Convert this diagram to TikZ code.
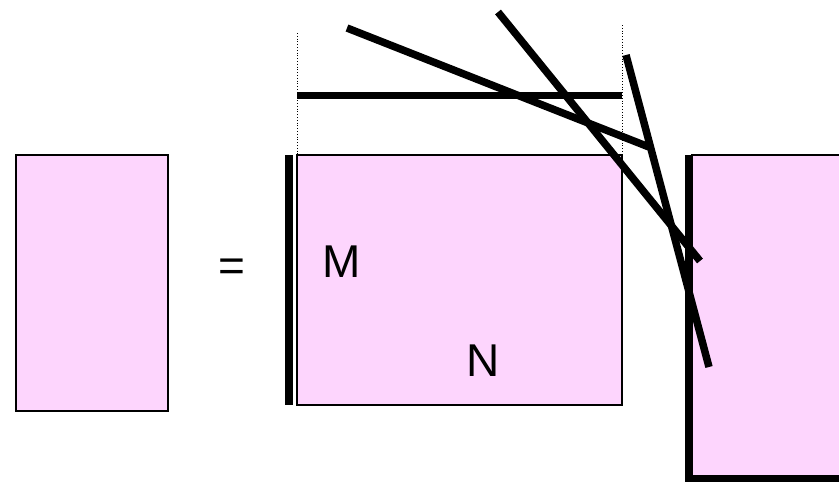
\documentclass[tikz,border=0pt]{standalone}
\usepackage{fontspec}
\setmainfont{Liberation Sans}
\definecolor{matpink}{RGB}{253,213,253}
\tikzset{
  mat/.style={draw=black, line width=1.3pt, fill=matpink},
  thickbar/.style={line width=7.5pt, black},
  guide/.style={dotted, line width=0.8pt, black},
  lbl/.style={font=\fontsize{46}{52}\selectfont, inner sep=0pt}
}
\begin{document}
\begin{tikzpicture}[x=1pt,y=-1pt]
\clip (0,0) rectangle (839,482);
% matrices
\draw[mat] (16,155) rectangle (168,411);
\draw[mat] (297,155) rectangle (622,405);
\draw[mat] (692,155) rectangle (850,478);
% guides
\draw[guide] (297,33) -- (297,155);
\draw[guide] (622,25) -- (622,155);
% thick bars
\draw[thickbar] (289,155) -- (289,405);
\draw[thickbar] (297,95.5) -- (622,95.5);
\draw[thickbar] (689,155) -- (689,482);
\draw[thickbar] (685,479) -- (850,479);
% slanted lines
\coordinate (a1) at (347,28);
\coordinate (a2) at (649,147);
\coordinate (b1) at (498,12);
\coordinate (b2) at (700,261);
\coordinate (c1) at (626,55);
\coordinate (c2) at (709,367);
\draw[thickbar] (a1) -- (a2);
\draw[thickbar] (b1) -- (b2);
\draw[thickbar] (c1) -- (c2);
% labels
\node[lbl] (eq) at (232,270) {=};
\node[lbl] (m) at (342,262) {M};
\node[lbl] (n) at (483,361) {N};
\end{tikzpicture}
\end{document}
